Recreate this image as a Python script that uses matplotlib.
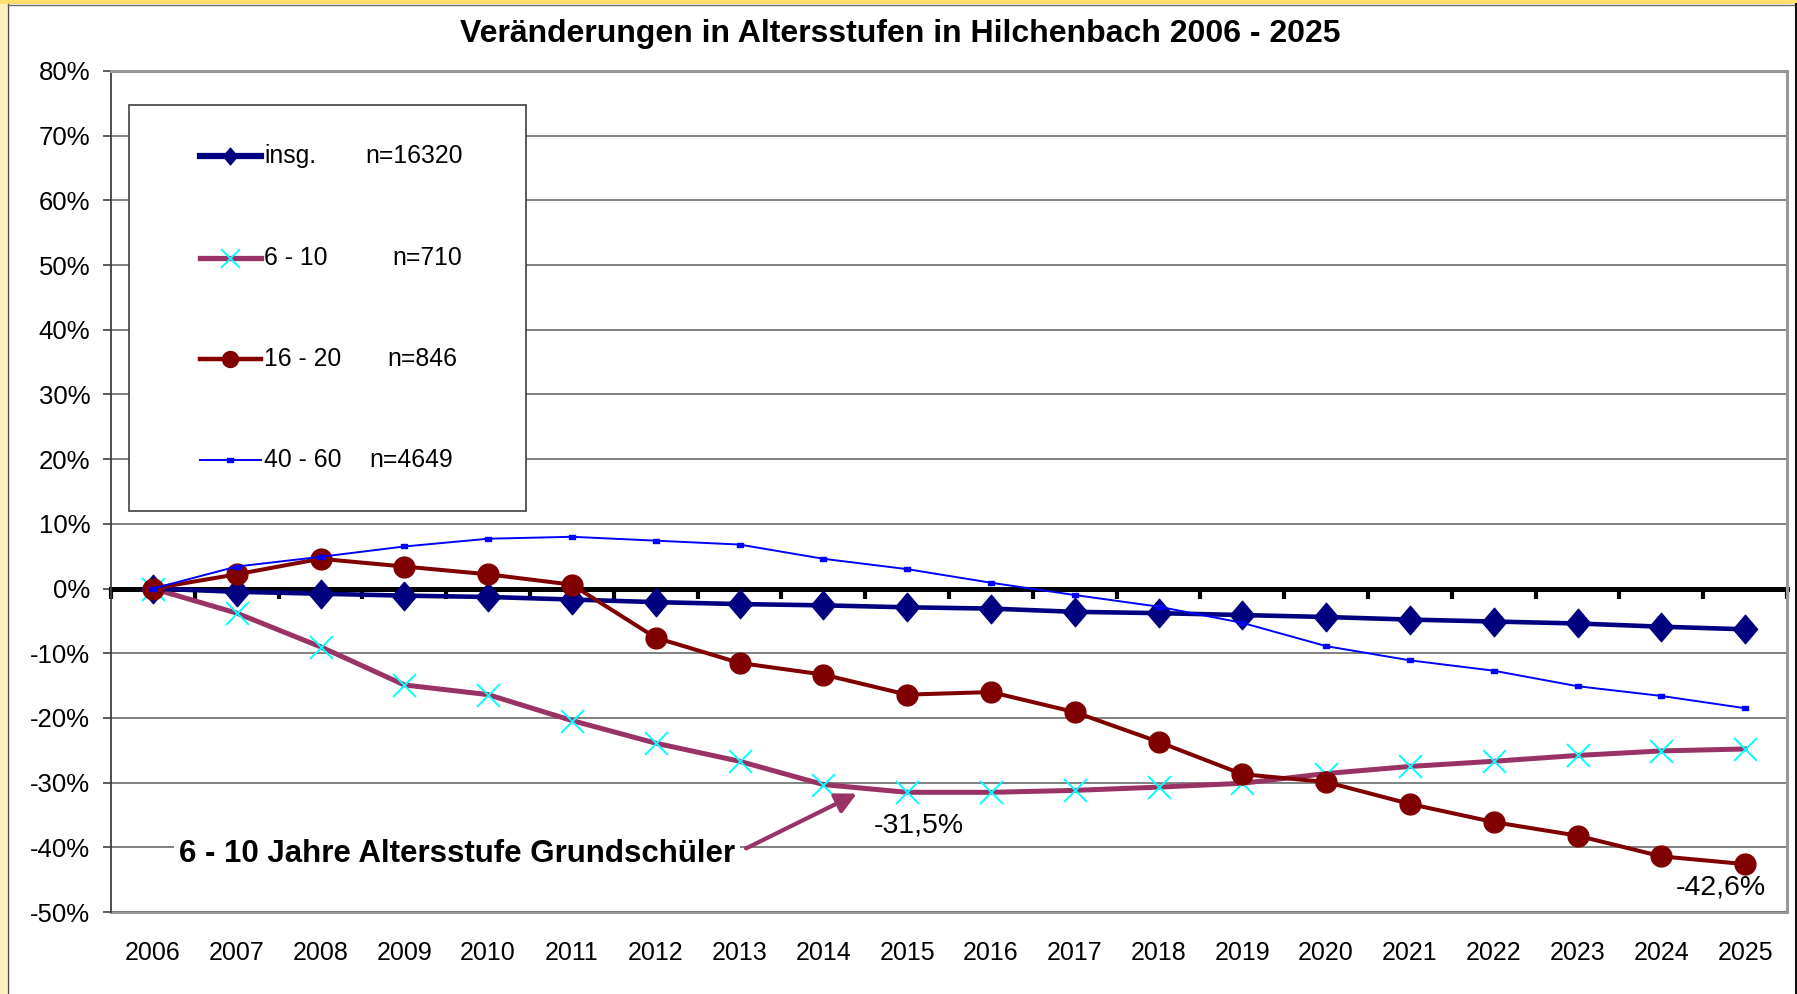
import numpy as np
import matplotlib
matplotlib.use("Agg")
import matplotlib.pyplot as plt
from matplotlib.path import Path
from matplotlib.patches import Rectangle
from matplotlib.lines import Line2D
from matplotlib.ticker import FixedLocator, FuncFormatter

plt.rcParams['font.family'] = ['Liberation Sans', 'DejaVu Sans']

# --- data: change relative to 2006 in percent ---
years = [str(y) for y in range(2006, 2026)]
insg = [0.0, -0.5, -0.8, -1.1, -1.3, -1.7, -2.1, -2.4, -2.6, -2.9,
        -3.1, -3.6, -3.8, -4.1, -4.4, -4.8, -5.1, -5.4, -5.9, -6.3]
age_6_10 = [0.0, -3.8, -9.0, -14.9, -16.4, -20.4, -23.9, -26.7, -30.3, -31.5,
            -31.5, -31.2, -30.7, -30.1, -28.6, -27.5, -26.7, -25.8, -25.1, -24.8]
age_16_20 = [0.0, 2.2, 4.6, 3.4, 2.2, 0.6, -7.6, -11.5, -13.3, -16.4,
             -16.0, -19.1, -23.7, -28.7, -29.9, -33.3, -36.1, -38.2, -41.4, -42.6]
age_40_60 = [0.0, 3.4, 4.9, 6.5, 7.7, 8.0, 7.4, 6.8, 4.6, 3.0,
             0.9, -1.0, -2.8, -5.3, -8.9, -11.1, -12.7, -15.1, -16.6, -18.5]
series_names = ["insg.", "6 - 10", "16 - 20", "40 - 60"]
series_n = ["n=16320", "n=710", "n=846", "n=4649"]
y_ticks = list(range(-50, 81, 10))

# --- marker shapes ---
diamond = Path([(0, 1), (0.85, 0), (0, -1), (-0.85, 0), (0, 1)],
               [Path.MOVETO, Path.LINETO, Path.LINETO, Path.LINETO, Path.CLOSEPOLY])
cross = Path([(-1, -1), (1, 1), (-1, 1), (1, -1)],
             [Path.MOVETO, Path.LINETO, Path.MOVETO, Path.LINETO])
dash = Path([(-1, -0.6), (1, -0.6), (1, 0.6), (-1, 0.6), (-1, -0.6)],
            [Path.MOVETO, Path.LINETO, Path.LINETO, Path.LINETO, Path.CLOSEPOLY])

W, H = 1797, 994
fig = plt.figure(figsize=(W / 100, H / 100), dpi=100)
fig.patch.set_facecolor("white")

# yellow frame around the chart area
fig.patches.append(Rectangle((0, 0), 7 / W, 1, transform=fig.transFigure,
                             facecolor="#FFF0BE", edgecolor="none"))
fig.patches.append(Rectangle((0, 1 - 4 / H), 1, 4 / H, transform=fig.transFigure,
                             facecolor="#FFDF6E", edgecolor="none"))
fig.add_artist(Line2D([7.5 / W, 7.5 / W], [0, 1 - 4 / H], transform=fig.transFigure,
                      color="#4a4a4a", lw=1.0))
fig.add_artist(Line2D([7.5 / W, 1], [1 - 4.5 / H, 1 - 4.5 / H], transform=fig.transFigure,
                      color="#6a6a6a", lw=1.0))
fig.add_artist(Line2D([1 - 1 / W, 1 - 1 / W], [0, 1 - 4 / H], transform=fig.transFigure,
                      color="#111111", lw=1.5))

ax = fig.add_axes([111 / W, 82 / H, 1676 / W, 841 / H])
x = np.arange(len(years))
ax.set_xlim(-0.5, len(years) - 0.5)
ax.set_ylim(-50, 80)
ax.set_axisbelow(True)

# y axis
ax.yaxis.set_major_locator(FixedLocator(y_ticks))
ax.yaxis.set_major_formatter(FuncFormatter(lambda v, p: f"{int(round(v))}%"))
ax.tick_params(axis="y", direction="out", length=6, width=1.2, color="#404040",
               labelsize=18.5, pad=9)
ax.yaxis.grid(True, color="#808080", lw=1.4)

# category axis crossing at 0: thick black line with ticks between categories
ax.spines["bottom"].set_position(("data", 0))
ax.spines["bottom"].set_linewidth(3.6)
ax.spines["bottom"].set_color("black")
ax.spines["bottom"].set_zorder(1.5)
ax.set_xticks(np.arange(-0.5, len(years), 1.0))
ax.tick_params(axis="x", direction="out", length=7, width=3, color="black",
               labelbottom=False)
ax.spines["left"].set_color("#404040")
ax.spines["left"].set_linewidth(1.3)
for s in ("top", "right"):
    ax.spines[s].set_color("#989898")
    ax.spines[s].set_linewidth(2.2)

# year labels along the bottom edge of the plot area
sec = ax.secondary_xaxis(0)
sec.set_xticks(x, labels=years)
sec.tick_params(length=0, pad=21, labelsize=18)
sec.spines["bottom"].set_color("#989898")
sec.spines["bottom"].set_linewidth(2.2)

# series
ax.plot(x, age_6_10, color="#993366", lw=3.6, marker=cross, ms=16.5,
        mec="#00FFFF", mfc="none", mew=1.4, zorder=3, solid_joinstyle="round")
ax.plot(x, insg, color="#000080", lw=3.3, marker=diamond, ms=20.5,
        mec="#000080", mfc="#000080", zorder=4)
ax.plot(x, age_16_20, color="#800000", lw=2.9, marker="o", ms=15,
        mec="#800000", mfc="#800000", zorder=5)
ax.plot(x, age_40_60, color="#0000FF", lw=1.4, marker=dash, ms=4.5,
        mec="#0000FF", mfc="#0000FF", zorder=6)

# legend box
ax.add_patch(Rectangle((0.0107, 0.4768), 0.2369, 0.4828, transform=ax.transAxes,
                       facecolor="white", edgecolor="#404040", lw=1.2, zorder=7))
leg_y = [0.899, 0.778, 0.658, 0.538]
leg_n_x = [0.1516, 0.1676, 0.1646, 0.1539]
styles = [
    dict(color="#000080", lw=4.5, marker=diamond, ms=12, mec="#000080", mfc="#000080"),
    dict(color="#993366", lw=3.8, marker=cross, ms=13.5, mec="#00FFFF", mfc="none", mew=1.4),
    dict(color="#800000", lw=3.2, marker="o", ms=11.5, mec="#800000", mfc="#800000"),
    dict(color="#0000FF", lw=1.4, marker=dash, ms=5, mec="#0000FF", mfc="#0000FF"),
]
for name, n, yy, nx, st in zip(series_names, series_n, leg_y, leg_n_x, styles):
    ax.add_line(Line2D([0.0531, 0.0895], [yy, yy], transform=ax.transAxes,
                       markevery=[], zorder=8, **st))
    ax.add_line(Line2D([0.0713], [yy], transform=ax.transAxes, linestyle="none",
                       zorder=9, **{k: v for k, v in st.items() if k not in ("lw", "color")}))
    ax.text(0.0913, yy, name, transform=ax.transAxes, fontsize=17.8,
            va="center", ha="left", zorder=9)
    ax.text(nx, yy, n, transform=ax.transAxes, fontsize=17.8,
            va="center", ha="left", zorder=9)

# value labels
i15 = years.index("2015")
ax.annotate(f"{age_6_10[i15]:.1f}%".replace(".", ","), xy=(x[i15], age_6_10[i15]),
            xytext=(12, -33), textcoords="offset pixels", ha="center", va="center",
            fontsize=20.5, zorder=9)
ax.annotate(f"{age_16_20[-1]:.1f}%".replace(".", ","), xy=(x[-1], age_16_20[-1]),
            xytext=(-24, -23), textcoords="offset pixels", ha="center", va="center",
            fontsize=20.5, zorder=9)

# callout for the primary-school age group
ax.annotate("6 - 10 Jahre Altersstufe Grundschüler", xy=(8.40, -31.7), xytext=(3.63, -41.0),
            ha="center", va="center", fontsize=22.5, fontweight="bold", zorder=9,
            bbox=dict(boxstyle="square,pad=0.15", fc="white", ec="none"),
            arrowprops=dict(arrowstyle="-|>,head_length=0.55,head_width=0.28",
                            color="#993366", lw=3, shrinkA=5, shrinkB=0,
                            relpos=(1.0, 0.5)))

fig.text(900 / W, 1 - 34 / H, "Veränderungen in Altersstufen in Hilchenbach 2006 - 2025",
         ha="center", va="center", fontsize=23, fontweight="bold")

fig.savefig("out.png", dpi=100)
